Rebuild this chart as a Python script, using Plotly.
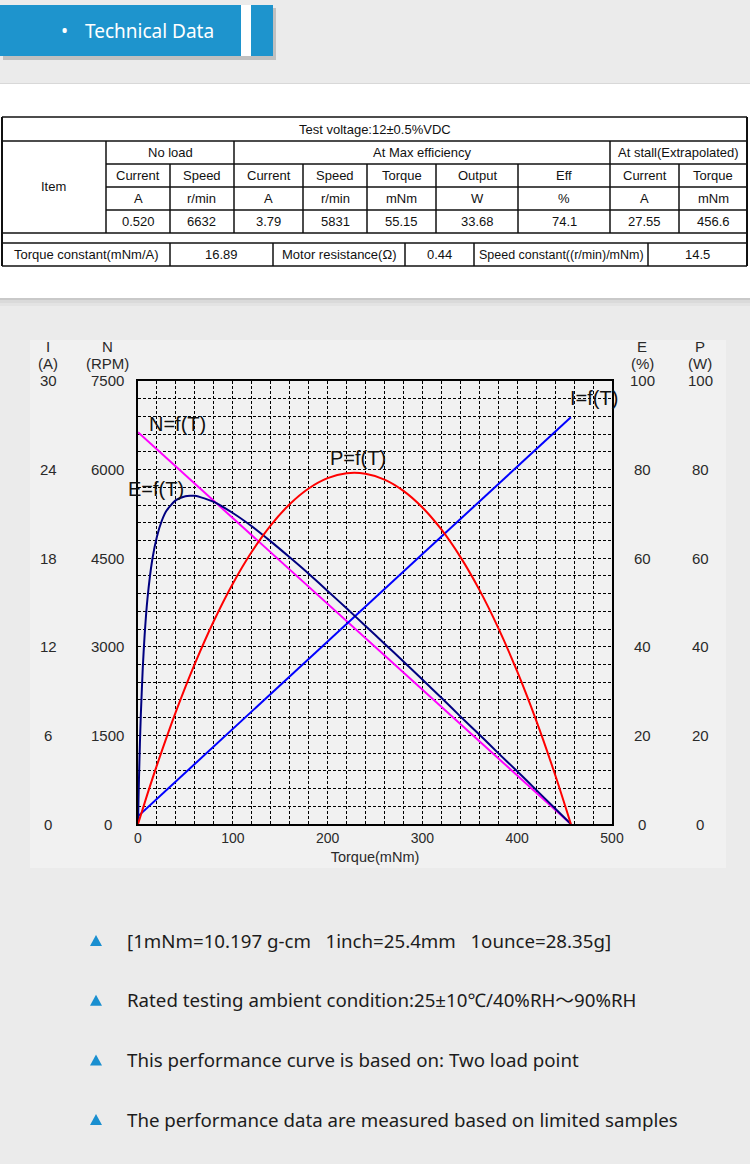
import plotly.graph_objects as go

W, H = 750, 1164


def px(x):
    return x / W


def py(y):
    return 1 - y / H


# ---------------- data ----------------
table_title = "Test voltage:12±0.5%VDC"
group_labels = ["No load", "At Max efficiency", "At stall(Extrapolated)"]
col_names = ["Current", "Speed", "Current", "Speed", "Torque", "Output", "Eff", "Current", "Torque"]
col_units = ["A", "r/min", "A", "r/min", "mNm", "W", "%", "A", "mNm"]
col_values = ["0.520", "6632", "3.79", "5831", "55.15", "33.68", "74.1", "27.55", "456.6"]
const_labels = ["Torque constant(mNm/A)", "Motor resistance(Ω)", "Speed constant((r/min)/mNm)"]
const_values = ["16.89", "0.44", "14.5"]

torque_line = [0, 456.6]
speed_rpm = [6632, 0]
current_a = [0.520, 27.55]

torque_p = [0, 10, 20, 40, 60, 80, 100, 120, 140, 160, 180, 200, 220, 240, 260,
            280, 300, 320, 340, 360, 380, 400, 420, 440, 456.6]
power_w = [0, 6.79, 13.28, 25.35, 36.19, 45.83, 54.24, 61.44, 67.42, 72.18, 75.73,
           78.06, 79.18, 79.07, 77.75, 75.21, 71.46, 66.49, 60.30, 52.90, 44.27,
           34.43, 23.38, 11.11, 0]

torque_e = [0, 0.5, 1, 2, 3, 5, 7, 10, 15, 20, 25, 30, 40, 50, 55.15, 60, 70, 80,
            100, 120, 140, 160, 180, 200, 220, 240, 260, 280, 300, 320, 340, 360,
            380, 400, 420, 440, 456.6]
eff_pct = [0, 5.3, 10.0, 18.1, 24.7, 35.1, 42.7, 50.9, 59.6, 64.9, 68.4, 70.7, 73.1,
           74.0, 74.1, 74.1, 73.5, 72.7, 70.2, 67.2, 63.8, 60.2, 56.5, 52.6, 48.7,
           44.7, 40.7, 36.7, 32.6, 28.5, 24.3, 20.2, 16.0, 11.9, 7.7, 3.5, 0]

x_ticks = [0, 100, 200, 300, 400, 500]
i_ticks = [0, 6, 12, 18, 24, 30]
n_ticks = [0, 1500, 3000, 4500, 6000, 7500]
e_ticks = [0, 20, 40, 60, 80, 100]
p_ticks = [0, 20, 40, 60, 80, 100]

notes = [
    "[1mNm=10.197 g-cm   1inch=25.4mm   1ounce=28.35g]",
    "Rated testing ambient condition:25±10℃/40%RH～90%RH",
    "This performance curve is based on: Two load point",
    "The performance data are measured based on limited samples",
]

# ---------------- styling constants ----------------
ARIAL = "Liberation Sans, Arial, sans-serif"
UIFONT = "Noto Sans, Open Sans, Noto Sans CJK SC, sans-serif"
BLUE_HDR = "#1e94cd"

fig = go.Figure()

fig.add_trace(go.Scatter(x=torque_line, y=speed_rpm, mode="lines", yaxis="y",
                         line=dict(color="#ff00ff", width=2), name="N=f(T)"))
fig.add_trace(go.Scatter(x=torque_line, y=current_a, mode="lines", yaxis="y2",
                         line=dict(color="#0000ff", width=2), name="I=f(T)"))
fig.add_trace(go.Scatter(x=torque_p, y=power_w, mode="lines", yaxis="y4",
                         line=dict(color="#ff0000", width=2, shape="spline", smoothing=0.8),
                         name="P=f(T)"))
fig.add_trace(go.Scatter(x=torque_e, y=eff_pct, mode="lines", yaxis="y3",
                         line=dict(color="#000080", width=2, shape="spline", smoothing=0.6),
                         name="E=f(T)"))

shapes = []
ann = []


def rect(x0, y0, x1, y1, fill, layer="below"):
    shapes.append(dict(type="rect", xref="paper", yref="paper",
                       x0=px(x0), x1=px(x1), y0=py(y1), y1=py(y0),
                       fillcolor=fill, line=dict(width=0), layer=layer))


def hline(x0, x1, y, w=1.5):
    shapes.append(dict(type="line", xref="paper", yref="paper",
                       x0=px(x0), x1=px(x1), y0=py(y), y1=py(y),
                       line=dict(color="#111", width=w), layer="below"))


def vline(x, y0, y1, w=1.5):
    shapes.append(dict(type="line", xref="paper", yref="paper",
                       x0=px(x), x1=px(x), y0=py(y0), y1=py(y1),
                       line=dict(color="#111", width=w), layer="below"))


def text(x, y, s, size=13, color="#111", font=ARIAL, xanchor="center"):
    ann.append(dict(x=px(x), y=py(y), xref="paper", yref="paper", text=s,
                    showarrow=False, xanchor=xanchor, yanchor="middle",
                    font=dict(family=font, size=size, color=color)))


# header
rect(3, 8, 276, 60, "rgba(0,0,0,0.18)")
rect(0, 5, 273, 56, BLUE_HDR)
rect(241, 5, 251, 56, "#ffffff")
text(64, 31, "•", size=19, color="#ffffff", font=UIFONT)
text(83, 31, "Technical Data", size=19, color="#ffffff", font=UIFONT, xanchor="left")

# white table panel
rect(0, 83, 750, 84, "rgba(0,0,0,0.08)")
rect(0, 84, 750, 298, "#ffffff")
rect(0, 298, 750, 300, "rgba(0,0,0,0.14)")
rect(0, 300, 750, 303, "rgba(0,0,0,0.07)")
rect(0, 303, 750, 306, "rgba(0,0,0,0.03)")

# chart panel
rect(30, 340, 726, 868, "#f1f1f1")

# table geometry
cols = [2, 106, 170, 234, 303, 367, 436, 518, 610, 679, 747]
rows = [117, 141, 164, 187, 210, 233, 243, 266]
L, R = cols[0], cols[-1]
for y in rows:
    if y in (117, 141, 233, 243, 266):
        hline(L, R, y)
    else:
        hline(cols[1], R, y)
vline(L, 117, 266, 2)
vline(R, 117, 266, 2)
for x in (106, 234, 610):
    vline(x, 141, 233)
for x in cols[2:-1]:
    if x not in (234, 610):
        vline(x, 164, 233)
bottom_cols = [2, 170, 273, 405, 474, 648, 747]
for x in bottom_cols[1:-1]:
    vline(x, 243, 266)

text((L + R) / 2, 129, table_title)
text(54, 187, "Item")
group_spans = [(106, 234), (234, 610), (610, 747)]
for (a, b), s in zip(group_spans, group_labels):
    text((a + b) / 2, 152.5, s)
for i in range(9):
    cx = (cols[i + 1] + cols[i + 2]) / 2
    text(cx, 175.5, col_names[i])
    text(cx, 198.5, col_units[i])
    text(cx, 221.5, col_values[i])
for k in range(3):
    a, b, c = bottom_cols[2 * k], bottom_cols[2 * k + 1], bottom_cols[2 * k + 2]
    text((a + b) / 2, 254.5, const_labels[k], size=12.5 if k == 2 else 13)
    text((b + c) / 2, 254.5, const_values[k])

# y-axis tick columns (placed on each axis' own scale)
TICKC = "#2a2a2a"
for xc, ticks, ref in [(48, i_ticks, "y2"), (108, n_ticks, "y"),
                       (642, e_ticks, "y3"), (700, p_ticks, "y4")]:
    for v in ticks:
        ann.append(dict(x=px(xc), xref="paper", y=v, yref=ref, text=str(v),
                        showarrow=False, xanchor="center", yanchor="middle",
                        font=dict(family=ARIAL, size=15, color=TICKC)))
for cx, a, b in [(48, "I", "(A)"), (108, "N", "(RPM)"), (642, "E", "(%)"), (700, "P", "(W)")]:
    text(cx, 346, a, size=15, color=TICKC)
    text(cx, 363, b, size=15, color=TICKC)

# curve labels
text(177, 424, "N=f(T)", size=20)
text(156, 489, "E=f(T)", size=20)
text(358, 458, "P=f(T)", size=20)
text(594, 398, "I=f(T)", size=20)

# notes
for i, s in enumerate(notes):
    yc = 940 + i * 59.7
    shapes.append(dict(type="path", xref="paper", yref="paper",
                       path=f"M {px(90)} {py(yc + 6)} L {px(102)} {py(yc + 6)} L {px(96)} {py(yc - 5)} Z",
                       fillcolor="#1a8fd0", line=dict(width=0), layer="below"))
    text(125, yc, s, size=18.7, color="#1c1c1c", font=UIFONT, xanchor="left")

grid = dict(gridcolor="#000000", griddash="3px,2px", gridwidth=1)
ydom = [py(824), py(381)]

fig.update_layout(
    width=W, height=H, margin=dict(l=0, r=0, t=0, b=0, pad=0, autoexpand=False),
    paper_bgcolor="#ebebeb", plot_bgcolor="#f1f1f1",
    showlegend=False,
    shapes=shapes, annotations=ann,
    xaxis=dict(domain=[px(138), px(612)], range=[0, 500], tickvals=x_ticks,
               showgrid=True, **grid, zeroline=False, automargin=False,
               minor=dict(dtick=20, showgrid=True, **grid),
               showline=True, linecolor="#000", linewidth=1.5, mirror=True,
               ticks="", tickfont=dict(family=ARIAL, size=14, color=TICKC),
               title=dict(text="Torque(mNm)", standoff=7,
                          font=dict(family=ARIAL, size=14.5, color=TICKC))),
    yaxis=dict(domain=ydom, range=[0, 7500], tickvals=n_ticks, showticklabels=False,
               showgrid=True, **grid, zeroline=False, automargin=False,
               minor=dict(dtick=300, showgrid=True, **grid),
               showline=True, linecolor="#000", linewidth=1.5, mirror=True, ticks=""),
    yaxis2=dict(domain=ydom, range=[0, 30], overlaying="y", visible=False),
    yaxis3=dict(domain=ydom, range=[0, 100], overlaying="y", visible=False),
    yaxis4=dict(domain=ydom, range=[0, 100], overlaying="y", visible=False),
)

fig.write_html(
    "out.html",
    post_script="document.documentElement.style.overflow='hidden';"
                "document.body.style.margin='0';document.body.style.overflow='hidden';",
)
